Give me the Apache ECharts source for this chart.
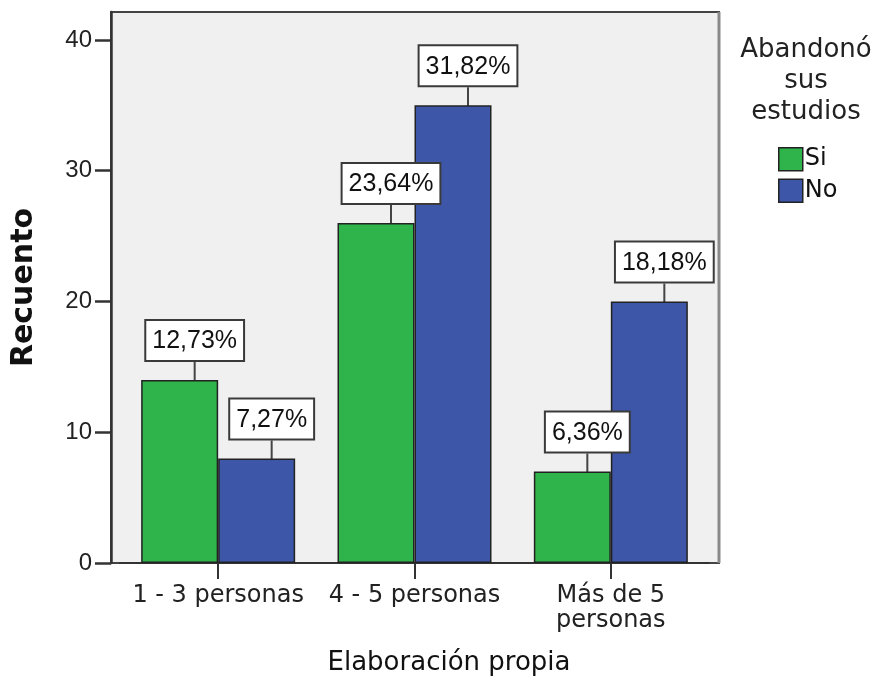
<!DOCTYPE html>
<html>
<head>
<meta charset="utf-8">
<script src="https://cdn.jsdelivr.net/npm/echarts@6/dist/echarts.min.js"></script>
<style>
  html, body { margin: 0; padding: 0; background: #ffffff; }
  #chart { width: 875px; height: 679px; }
</style>
</head>
<body>
<div id="chart"></div>
<script>
// Household size categories and counts of students per answer
const categories = ['1 - 3 personas', '4 - 5 personas', 'Más de 5\npersonas'];
const seriesNames = ['Si', 'No'];
const siCounts = [14, 26, 7];
const noCounts = [8, 35, 20];
const yTicks = [0, 10, 20, 30, 40];

const TEXT_FONT = '"DejaVu Sans", Verdana, sans-serif';
const NUM_FONT = '"Liberation Sans", Arial, Helvetica, sans-serif';
const GREEN = '#2eb44a';
const BLUE = '#3d56a8';

// Percent of the grand total, written with a decimal comma
const total = siCounts.concat(noCounts).reduce((a, b) => a + b, 0);
const pct = v => (v / total * 100).toFixed(2).replace('.', ',') + '%';

const chart = echarts.init(document.getElementById('chart'), null, { renderer: 'canvas' });

const labelBox = {
  show: true,
  position: 'top',
  distance: 0,
  formatter: p => pct(p.value),
  fontFamily: NUM_FONT,
  fontSize: 25,
  color: '#111',
  backgroundColor: '#ffffff',
  borderColor: '#3a3a3a',
  borderWidth: 2,
  padding: [8, 6, 6, 6]
};

function barSeries(name, values, color) {
  return {
    name: name,
    type: 'bar',
    data: values,
    barWidth: 77,
    barGap: '0%',
    itemStyle: { color: color, borderColor: '#222', borderWidth: 1.5 },
    label: labelBox,
    labelLayout: { dx: 15, dy: -20 },
    labelLine: { show: true, lineStyle: { color: '#444', width: 2 } },
    emphasis: { disabled: true }
  };
}

chart.setOption({
  animation: false,
  textStyle: { fontFamily: TEXT_FONT },
  graphic: [{
    type: 'rect',
    z: -10,
    shape: { x: 111, y: 12, width: 608, height: 551 },
    style: { fill: '#f0f0f0', stroke: '#444', lineWidth: 2 }
  }, {
    type: 'line',
    z: -9,
    shape: { x1: 719, y1: 12, x2: 719, y2: 563 },
    style: { stroke: '#8a8a8a', lineWidth: 3 }
  }],
  title: [{
    text: 'Abandonó\nsus\nestudios',
    left: 801,
    top: 30,
    textAlign: 'center',
    textStyle: { fontFamily: TEXT_FONT, fontSize: 26, fontWeight: 'normal', color: '#222', lineHeight: 31 }
  }, {
    text: 'Elaboración propia',
    left: 444,
    top: 645,
    textAlign: 'center',
    textStyle: { fontFamily: TEXT_FONT, fontSize: 26, fontWeight: 'normal', color: '#111' }
  }],
  legend: {
    orient: 'vertical',
    left: 773,
    top: 142,
    itemWidth: 24,
    itemHeight: 23,
    itemGap: 7,
    icon: 'rect',
    data: seriesNames,
    textStyle: { fontFamily: TEXT_FONT, fontSize: 24, color: '#111', padding: [0, 0, 0, -3] },
    itemStyle: { borderColor: '#222', borderWidth: 1.5 }
  },
  grid: { left: 120, right: 166, top: 12, bottom: 116, containLabel: false },
  xAxis: {
    type: 'category',
    data: categories,
    axisLine: { show: true, lineStyle: { color: '#333', width: 2 } },
    axisTick: { show: true, alignWithLabel: true, length: 16, lineStyle: { color: '#333', width: 2 } },
    axisLabel: { fontFamily: TEXT_FONT, fontSize: 24, color: '#222', margin: 20, lineHeight: 25, interval: 0 }
  },
  yAxis: {
    type: 'value',
    min: 0,
    max: 42.14,
    offset: 9,
    name: 'Recuento',
    nameLocation: 'middle',
    nameGap: 72,
    nameTextStyle: { fontFamily: TEXT_FONT, fontSize: 30, fontWeight: 'bold', color: '#111' },
    splitLine: { show: false },
    axisLine: { show: true, lineStyle: { color: '#333', width: 2.5 } },
    axisTick: { show: true, length: 16, customValues: yTicks, lineStyle: { color: '#333', width: 2.5 } },
    axisLabel: { fontFamily: NUM_FONT, fontSize: 24, color: '#222', margin: 19, customValues: yTicks }
  },
  series: [
    barSeries(seriesNames[0], siCounts, GREEN),
    barSeries(seriesNames[1], noCounts, BLUE)
  ]
});
</script>
</body>
</html>
